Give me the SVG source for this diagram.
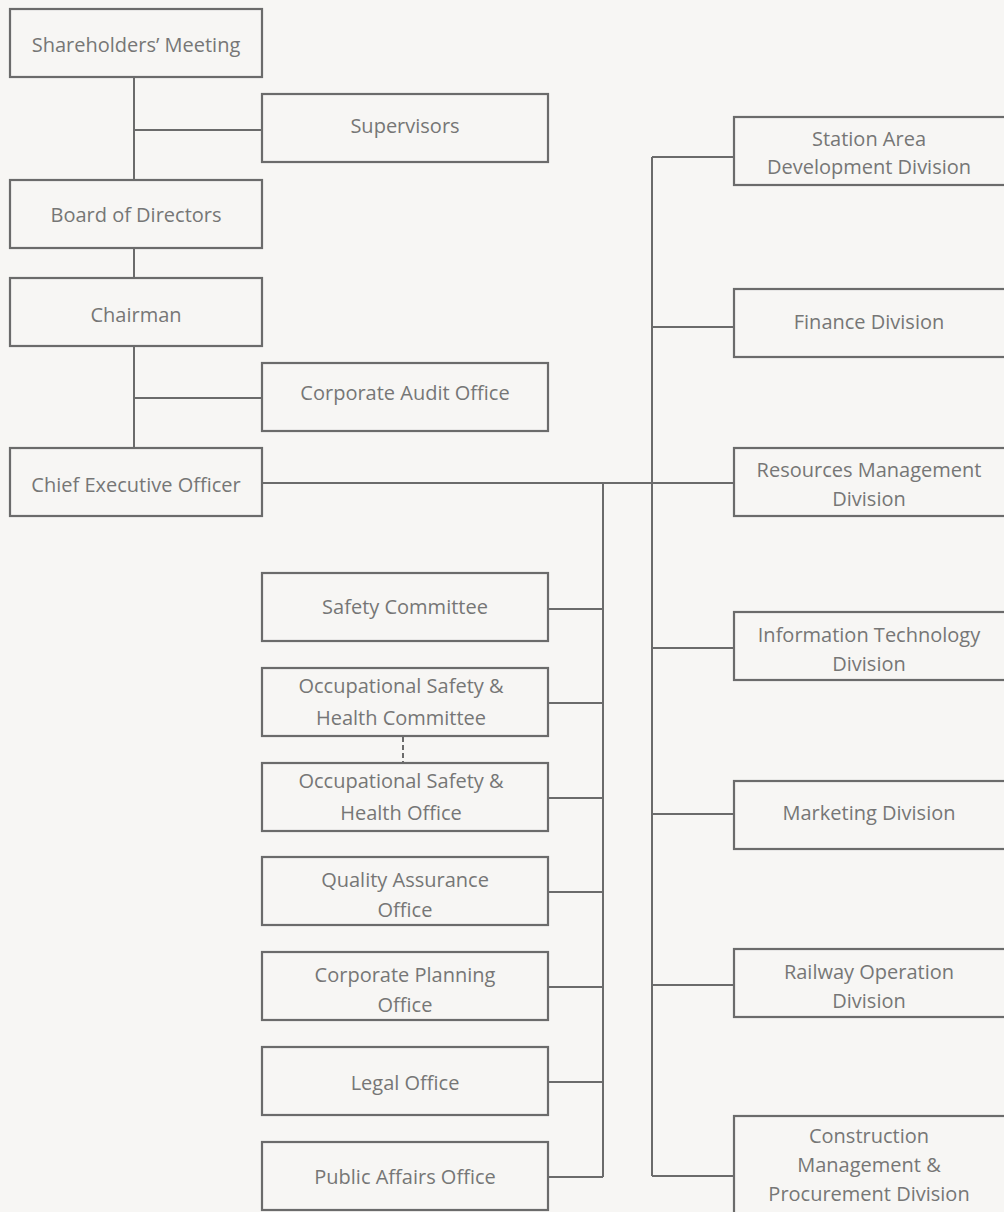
<svg xmlns="http://www.w3.org/2000/svg" width="1004" height="1212" viewBox="0 0 1004 1212">
<style>
.bg{fill:#f7f6f4}
.box{fill:#f7f6f4;stroke:#6b6b6b;stroke-width:2.2}
.ln{fill:none;stroke:#6b6b6b;stroke-width:2}
.dash{fill:none;stroke:#6b6b6b;stroke-width:2;stroke-dasharray:5 3}
text{font-family:"Open Sans","Noto Sans","Liberation Sans",sans-serif;font-size:20px;fill:#767676;text-anchor:middle}
</style>
<rect class="bg" x="0" y="0" width="1004" height="1212"/>
<g id="connectors">
<path class="ln" d="M134 77V180M134 248V278M134 346V448M134 130H262M134 398H262"/>
<path class="ln" d="M262 483H734"/>
<path class="ln" d="M603 483V1177M548 609H603M548 703H603M548 798H603M548 892H603M548 987H603M548 1082H603M548 1177H603"/>
<path class="ln" d="M652 157V1176M652 157H734M652 327H734M652 648H734M652 814H734M652 985H734M652 1176H734"/>
<path class="dash" d="M403 737V763"/>
</g>
<g id="shareholders"><rect class="box" x="10" y="9" width="252" height="68"/><text x="136" y="52">Shareholders’ Meeting</text></g>
<g id="supervisors"><rect class="box" x="262" y="94" width="286" height="68"/><text x="405" y="133">Supervisors</text></g>
<g id="board"><rect class="box" x="10" y="180" width="252" height="68"/><text x="136" y="222">Board of Directors</text></g>
<g id="chairman"><rect class="box" x="10" y="278" width="252" height="68"/><text x="136" y="322">Chairman</text></g>
<g id="audit"><rect class="box" x="262" y="363" width="286" height="68"/><text x="405" y="400">Corporate Audit Office</text></g>
<g id="ceo"><rect class="box" x="10" y="448" width="252" height="68"/><text x="136" y="492">Chief Executive Officer</text></g>
<g id="safety"><rect class="box" x="262" y="573" width="286" height="68"/><text x="405" y="614">Safety Committee</text></g>
<g id="osh-committee"><rect class="box" x="262" y="668" width="286" height="68"/><text x="401" y="693">Occupational Safety &amp;</text><text x="401" y="725">Health Committee</text></g>
<g id="osh-office"><rect class="box" x="262" y="763" width="286" height="68"/><text x="401" y="788">Occupational Safety &amp;</text><text x="401" y="820">Health Office</text></g>
<g id="qa"><rect class="box" x="262" y="857" width="286" height="68"/><text x="405" y="887">Quality Assurance</text><text x="405" y="917">Office</text></g>
<g id="planning"><rect class="box" x="262" y="952" width="286" height="68"/><text x="405" y="982">Corporate Planning</text><text x="405" y="1012">Office</text></g>
<g id="legal"><rect class="box" x="262" y="1047" width="286" height="68"/><text x="405" y="1090">Legal Office</text></g>
<g id="public-affairs"><rect class="box" x="262" y="1142" width="286" height="68"/><text x="405" y="1184">Public Affairs Office</text></g>
<g id="station"><rect class="box" x="734" y="117" width="274" height="68"/><text x="869" y="146">Station Area</text><text x="869" y="174">Development Division</text></g>
<g id="finance"><rect class="box" x="734" y="289" width="274" height="68"/><text x="869" y="329">Finance Division</text></g>
<g id="resources"><rect class="box" x="734" y="448" width="274" height="68"/><text x="869" y="477">Resources Management</text><text x="869" y="506">Division</text></g>
<g id="it"><rect class="box" x="734" y="612" width="274" height="68"/><text x="869" y="642">Information Technology</text><text x="869" y="671">Division</text></g>
<g id="marketing"><rect class="box" x="734" y="781" width="274" height="68"/><text x="869" y="820">Marketing Division</text></g>
<g id="railway"><rect class="box" x="734" y="949" width="274" height="68"/><text x="869" y="979">Railway Operation</text><text x="869" y="1008">Division</text></g>
<g id="construction"><rect class="box" x="734" y="1116" width="274" height="120"/><text x="869" y="1143">Construction</text><text x="869" y="1172">Management &amp;</text><text x="869" y="1201">Procurement Division</text></g>
</svg>
